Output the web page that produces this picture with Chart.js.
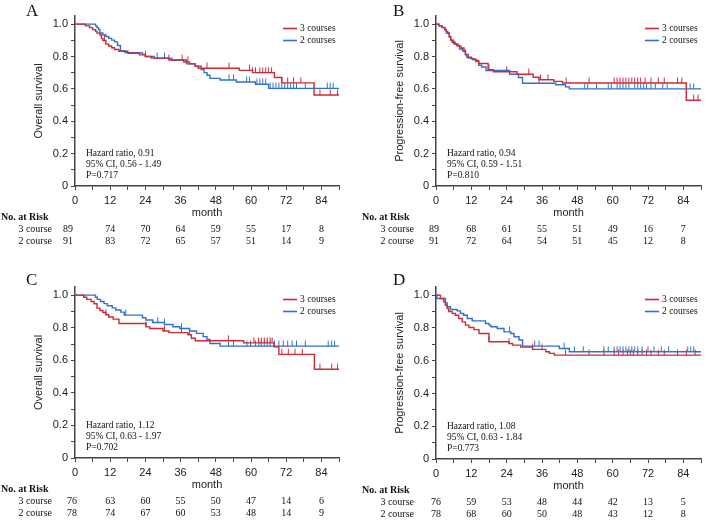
<!DOCTYPE html>
<html>
<head>
<meta charset="utf-8">
<script src="https://cdn.jsdelivr.net/npm/chart.js@4"></script>
<style>
  body { margin: 0; background: #fff; }
  #wrap { position: relative; width: 709px; height: 520px; overflow: hidden; }
  canvas { position: absolute; }
</style>
</head>
<body>
<div id="wrap">
  <canvas id="pA" width="354" height="260" style="left:0;top:0"></canvas>
  <canvas id="pB" width="354" height="260" style="left:355px;top:0"></canvas>
  <canvas id="pC" width="354" height="260" style="left:0;top:260px"></canvas>
  <canvas id="pD" width="354" height="260" style="left:355px;top:260px"></canvas>
</div>
<script>
// risk table columns (months)
const riskTimes = [0, 12, 24, 36, 48, 60, 72, 84];
const groupNames = ['3 courses', '2 courses'];
const rowNames = ['3 course', '2 course'];

// A: overall survival
const aRedT = [0, 3.5, 5, 6, 7, 7.5, 8.5, 9, 9.5, 10.5, 11.5, 12.5, 13.5, 15, 18, 22, 24, 26, 32, 38, 39, 41, 42, 56, 60.5, 68, 70.5, 81.5];
const aRedS = [1, 0.989, 0.978, 0.966, 0.955, 0.944, 0.933, 0.91, 0.899, 0.876, 0.865, 0.854, 0.843, 0.832, 0.82, 0.81, 0.80, 0.79, 0.778, 0.766, 0.754, 0.74, 0.727, 0.714, 0.70, 0.67, 0.637, 0.562];
const aBlueT = [0, 7, 7.5, 8, 8.5, 9.5, 10.5, 11.5, 12.5, 13.5, 14.5, 15.5, 17, 23, 24, 27, 33, 37, 38, 41, 43, 44, 45, 46, 49.5, 55, 61.5, 66];
const aBlueS = [1, 0.989, 0.978, 0.967, 0.945, 0.934, 0.923, 0.912, 0.901, 0.89, 0.868, 0.835, 0.824, 0.813, 0.80, 0.79, 0.778, 0.766, 0.754, 0.74, 0.72, 0.70, 0.684, 0.665, 0.655, 0.642, 0.628, 0.603];
const aRedCens = [10, 15.5, 24, 32, 36.5, 38.5, 45, 52.5, 59.5, 60.5, 61.5, 63, 64, 65, 66, 67, 70.5, 72.5, 74.5, 77, 83.5, 87, 89.5];
const aBlueCens = [28, 30.5, 52.5, 54, 58.5, 59.5, 62, 63, 64, 65, 66.5, 67.5, 68.5, 69.5, 70.5, 71.5, 72.5, 73.5, 74.5, 75.5, 78.5, 86, 87, 88];
const aRisk3 = [89, 74, 70, 64, 59, 55, 17, 8];
const aRisk2 = [91, 83, 72, 65, 57, 51, 14, 9];
const aStats = ['Hazard ratio, 0.91', '95% CI, 0.56 - 1.49', 'P=0.717'];

// B: progression-free survival
const bRedT = [0, 1, 2, 3, 3.5, 4, 4.5, 5, 5.5, 6.5, 7.5, 8.5, 9.5, 10, 10.5, 12, 13.5, 14.5, 17.7, 19.5, 27.5, 33, 35, 40, 43, 85];
const bRedS = [1, 0.99, 0.98, 0.966, 0.955, 0.943, 0.92, 0.9, 0.888, 0.876, 0.864, 0.852, 0.83, 0.81, 0.795, 0.785, 0.775, 0.757, 0.718, 0.706, 0.69, 0.672, 0.656, 0.646, 0.636, 0.53];
const bBlueT = [0, 1, 2, 3, 3.5, 4.5, 5, 6, 7, 8, 9, 10, 11, 12.5, 13.5, 14.5, 15.5, 17, 25, 28, 29.4, 40.7, 44, 45.3];
const bBlueS = [1, 0.989, 0.978, 0.967, 0.945, 0.923, 0.901, 0.879, 0.868, 0.846, 0.835, 0.813, 0.79, 0.78, 0.768, 0.746, 0.735, 0.713, 0.69, 0.67, 0.635, 0.625, 0.612, 0.60];
const bRedCens = [10, 18, 24, 31.5, 35.5, 38, 44.2, 52, 60.5, 61.5, 62.5, 63.5, 64.5, 65.5, 66.5, 67.5, 68.5, 69.5, 71, 73, 75.5, 77.5, 82, 83.5, 87.5, 89];
const bBlueCens = [35, 50.5, 51.5, 54.5, 58.5, 59.5, 61.5, 62.5, 63.5, 64.5, 65.5, 67.5, 68.5, 69.5, 70.5, 71.5, 73, 74.5, 77, 78.5, 86.3, 87.5];
const bRisk3 = [89, 68, 61, 55, 51, 49, 16, 7];
const bRisk2 = [91, 72, 64, 54, 51, 45, 12, 8];
const bStats = ['Hazard ratio, 0.94', '95% CI, 0.59 - 1.51', 'P=0.810'];

// C: overall survival
const cRedT = [0, 3, 4, 5.5, 6.5, 7.5, 8.5, 9.5, 10.5, 11.5, 13, 15, 24.2, 25.5, 30, 32, 38.5, 39.7, 41, 57.5, 67.8, 69.5, 81.6];
const cRedS = [1, 0.987, 0.974, 0.961, 0.947, 0.92, 0.906, 0.893, 0.88, 0.866, 0.853, 0.826, 0.805, 0.795, 0.78, 0.77, 0.757, 0.735, 0.72, 0.707, 0.683, 0.636, 0.545];
const cBlueT = [0, 7, 7.6, 8.7, 9.9, 11, 12.7, 13.9, 15.6, 16.8, 23, 24.2, 26.5, 30.5, 33.4, 35.7, 39.1, 41.4, 43.7, 45, 46, 49.5];
const cBlueS = [1, 0.987, 0.974, 0.961, 0.948, 0.935, 0.922, 0.909, 0.896, 0.877, 0.861, 0.847, 0.832, 0.82, 0.806, 0.795, 0.78, 0.765, 0.745, 0.728, 0.703, 0.687];
const cRedCens = [10.5, 24.2, 30.5, 36.3, 39, 52.3, 61, 62.5, 63.5, 64.5, 65.5, 66.5, 67.2, 70.5, 72.7, 75, 77.5, 83.5, 87.5, 89.5];
const cBlueCens = [17.3, 28.2, 30.5, 36.3, 52.3, 54, 58.6, 59.8, 61.5, 62.7, 63.5, 64.5, 65.5, 66.5, 68, 69.5, 71, 72.5, 74, 75.5, 78.5, 86.3, 87.5, 88.5];
const cRisk3 = [76, 63, 60, 55, 50, 47, 14, 6];
const cRisk2 = [78, 74, 67, 60, 53, 48, 14, 9];
const cStats = ['Hazard ratio, 1.12', '95% CI, 0.63 - 1.97', 'P=0.702'];

// D: progression-free survival
const dRedT = [0, 1.5, 2.6, 3.2, 3.8, 4.3, 5.5, 6.6, 7.7, 8.9, 10, 11.2, 12.9, 14.6, 18, 24.8, 26, 28.8, 32.8, 37.3, 38.5, 40.2];
const dRedS = [1, 0.98, 0.96, 0.939, 0.919, 0.9, 0.888, 0.878, 0.858, 0.837, 0.817, 0.803, 0.79, 0.766, 0.716, 0.705, 0.695, 0.683, 0.669, 0.655, 0.645, 0.634];
const dBlueT = [0, 0.3, 3.2, 3.8, 4.9, 7.2, 8.3, 9.4, 10.6, 12.3, 16.8, 18, 18.6, 20.8, 23.1, 25.4, 26.5, 28.2, 29.4, 41.9, 45.3];
const dBlueS = [1, 0.98, 0.953, 0.929, 0.913, 0.904, 0.888, 0.878, 0.858, 0.843, 0.827, 0.817, 0.807, 0.797, 0.776, 0.766, 0.746, 0.726, 0.689, 0.675, 0.655];
const dRedCens = [18, 24.8, 32.8, 36, 44, 52, 57, 60.5, 62, 63.5, 65, 66, 67, 68.5, 70, 71.5, 73, 75.5, 77.5, 82, 85, 88];
const dBlueCens = [25, 33.5, 35, 43.5, 47, 50, 57, 58.5, 60.5, 61.5, 62.5, 63.5, 64.5, 65.5, 66.5, 67.5, 68.5, 70, 72, 74, 76.5, 79, 85.5, 86.5, 87.5];
const dRisk3 = [76, 59, 53, 48, 44, 42, 13, 5];
const dRisk2 = [78, 68, 60, 50, 48, 43, 12, 8];
const dStats = ['Hazard ratio, 1.08', '95% CI, 0.63 - 1.84', 'P=0.773'];

const RED = '#cf2a36';
const BLUE = '#2f72cc';
const AXIS = '#444';
const SANS = '"Liberation Sans", Arial, sans-serif';
const SERIF = '"Liberation Serif", "Times New Roman", serif';
const XMAX = 90;

// censor tick: small vertical stroke rising above the curve
function censorMark(color) {
  const c = document.createElement('canvas');
  c.width = 3;
  c.height = 12;
  const g = c.getContext('2d');
  g.strokeStyle = color;
  g.lineWidth = 1;
  g.beginPath();
  g.moveTo(1.5, 0.5);
  g.lineTo(1.5, 6);
  g.stroke();
  return c;
}

function stepData(T, S) {
  const pts = T.map((t, i) => ({ x: t, y: S[i] }));
  pts.push({ x: XMAX, y: S[S.length - 1] });
  return pts;
}

function survAt(T, S, t) {
  let v = S[0];
  for (let i = 0; i < T.length; i++) if (T[i] <= t) v = S[i];
  return v;
}

function censData(T, S, C) {
  return C.map(t => ({ x: t, y: survAt(T, S, t) }));
}

function decor(p) {
  return {
    id: 'decor',
    afterDraw(chart) {
      const ctx = chart.ctx;
      const ca = chart.chartArea;
      const xs = chart.scales.x;
      ctx.save();
      ctx.fillStyle = '#111';
      ctx.textBaseline = 'middle';

      ctx.font = '17px ' + SERIF;
      ctx.textAlign = 'left';
      ctx.fillText(p.letter, p.letterX, p.letterY);

      // legend
      ctx.font = '9.5px ' + SERIF;
      [RED, BLUE].forEach((c, i) => {
        const y = ca.top + 12.5 + 12 * i;
        ctx.strokeStyle = c;
        ctx.lineWidth = 1.6;
        ctx.beginPath();
        ctx.moveTo(ca.right - 56, y);
        ctx.lineTo(ca.right - 42, y);
        ctx.stroke();
        ctx.fillText(groupNames[i], ca.right - 39, y);
      });

      // hazard ratio text
      p.stats.forEach((s, i) => ctx.fillText(s, ca.left + 11, ca.bottom - 33 + 11 * i));

      // number at risk
      ctx.font = 'bold 10px ' + SERIF;
      ctx.fillText('No. at Risk', p.noX, ca.bottom + 31);
      ctx.font = '10px ' + SERIF;
      [p.risk3, p.risk2].forEach((row, r) => {
        const y = ca.bottom + 43.5 + 11.5 * r;
        ctx.textAlign = 'right';
        ctx.fillText(rowNames[r], p.rowRight, y);
        ctx.textAlign = 'center';
        row.forEach((n, j) => {
          const x = xs.getPixelForValue(riskTimes[j]) + (j === 0 ? p.firstShift : 0);
          ctx.fillText(String(n), x, y);
        });
      });
      ctx.restore();
    }
  };
}

function makePanel(id, p) {
  const lineDs = (T, S, c) => ({
    data: stepData(T, S), borderColor: c, borderWidth: 1.4, stepped: true,
    pointRadius: 0, fill: false
  });
  const censDs = (T, S, C, c) => ({
    data: censData(T, S, C), showLine: false, pointStyle: censorMark(c),
    pointRadius: 3, borderColor: c, borderWidth: 1
  });
  new Chart(document.getElementById(id), {
    type: 'line',
    data: {
      datasets: [
        lineDs(p.redT, p.redS, RED),
        lineDs(p.blueT, p.blueS, BLUE),
        censDs(p.redT, p.redS, p.redC, RED),
        censDs(p.blueT, p.blueS, p.blueC, BLUE)
      ]
    },
    options: {
      responsive: false,
      animation: false,
      events: [],
      layout: { padding: { left: 0, top: p.top, right: 354 - p.right, bottom: 260 - p.bottom - 34 } },
      plugins: { legend: { display: false }, tooltip: { enabled: false } },
      scales: {
        x: {
          type: 'linear', min: 0, max: XMAX,
          afterFit: s => { s.height = 34; },
          ticks: {
            stepSize: 6, autoSkip: false, maxRotation: 0, includeBounds: false, padding: 4,
            color: '#222', font: { family: SANS, size: 11 },
            callback: v => (v % 12 === 0 ? v : '')
          },
          grid: { drawOnChartArea: false, tickLength: 4, color: AXIS },
          border: { color: AXIS, width: 1.5 },
          title: { display: true, text: 'month', padding: 0, color: '#222', font: { family: SANS, size: 11 } }
        },
        y: {
          min: 0, max: 1.05,
          afterFit: s => { s.width = p.left; },
          ticks: {
            stepSize: 0.1, includeBounds: false, padding: 3,
            color: '#222', font: { family: SANS, size: 11 },
            callback: v => {
              const r = Math.round(v * 10);
              if (r % 2 !== 0 || r > 10) return '';
              return r === 0 ? '0' : (r / 10).toFixed(1);
            }
          },
          grid: { drawOnChartArea: false, tickLength: 4, color: AXIS },
          border: { color: AXIS, width: 1.5 },
          title: { display: true, text: p.ytitle, padding: { top: p.titlePad, bottom: 0 }, color: '#222', font: { family: SANS, size: 11 } }
        }
      }
    },
    plugins: [decor(p)]
  });
}

makePanel('pA', {
  redT: aRedT, redS: aRedS, blueT: aBlueT, blueS: aBlueS, redC: aRedCens, blueC: aBlueCens,
  risk3: aRisk3, risk2: aRisk2, stats: aStats, ytitle: 'Overall survival',
  letter: 'A', letterX: 26, letterY: 12, left: 75, right: 339, top: 16, bottom: 186,
  titlePad: 32, noX: 1, rowRight: 52, firstShift: -7
});
makePanel('pB', {
  redT: bRedT, redS: bRedS, blueT: bBlueT, blueS: bBlueS, redC: bRedCens, blueC: bBlueCens,
  risk3: bRisk3, risk2: bRisk2, stats: bStats, ytitle: 'Progression-free survival',
  letter: 'B', letterX: 38, letterY: 12, left: 81, right: 346, top: 16, bottom: 186,
  titlePad: 38, noX: 7, rowRight: 59, firstShift: -2
});
makePanel('pC', {
  redT: cRedT, redS: cRedS, blueT: cBlueT, blueS: cBlueS, redC: cRedCens, blueC: cBlueCens,
  risk3: cRisk3, risk2: cRisk2, stats: cStats, ytitle: 'Overall survival',
  letter: 'C', letterX: 26, letterY: 21, left: 75, right: 339, top: 27, bottom: 198,
  titlePad: 32, noX: 1, rowRight: 52, firstShift: -3
});
makePanel('pD', {
  redT: dRedT, redS: dRedS, blueT: dBlueT, blueS: dBlueS, redC: dRedCens, blueC: dBlueCens,
  risk3: dRisk3, risk2: dRisk2, stats: dStats, ytitle: 'Progression-free survival',
  letter: 'D', letterX: 38, letterY: 21, left: 81, right: 346, top: 27, bottom: 199,
  titlePad: 38, noX: 7, rowRight: 59, firstShift: 0
});
</script>
</body>
</html>
